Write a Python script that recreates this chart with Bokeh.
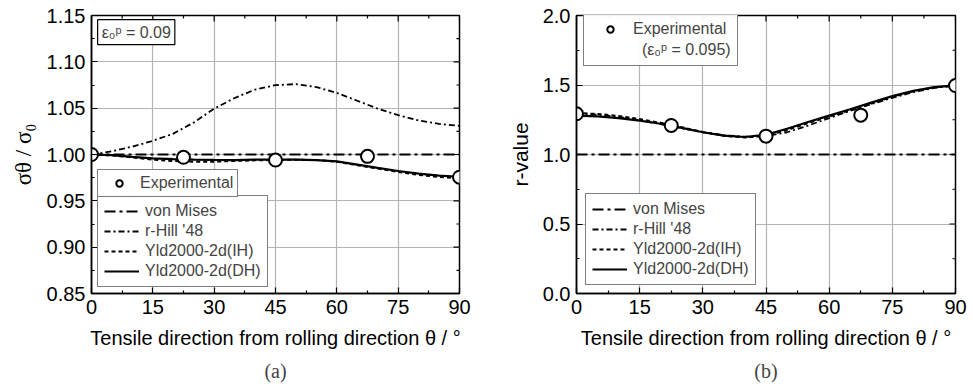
import math
from bokeh.plotting import figure
from bokeh.models import (FixedTicker, Legend, LegendItem, Label, Title,
                          NumeralTickFormatter, Range1d, ColumnDataSource)
from bokeh.layouts import row
from bokeh.embed import file_html
from bokeh.resources import INLINE

# ---------------- data ----------------
theta = [0, 5, 10, 15, 20, 25, 30, 35, 40, 45, 50, 55, 60, 65, 70, 75, 80, 85, 90]
exp_theta = [0, 22.5, 45, 67.5, 90]
mises_theta = [0, 90]

# (a) normalized yield stress
stress_exp = [1.000, 0.997, 0.994, 0.998, 0.9755]
stress_mises = [1.0, 1.0]
stress_hill = [1.000, 1.0035, 1.0085, 1.0148, 1.0225, 1.0345, 1.0495, 1.0610, 1.0700, 1.0748,
               1.0760, 1.0728, 1.0665, 1.0580, 1.0495, 1.0425, 1.0368, 1.0330, 1.0310]
stress_ih = [1.000, 0.9990, 0.9968, 0.9945, 0.9930, 0.9922, 0.9922, 0.9930, 0.9937, 0.9941,
             0.9943, 0.9940, 0.9922, 0.9885, 0.9848, 0.9812, 0.9780, 0.9757, 0.9745]
stress_dh = [1.000, 0.9993, 0.9975, 0.9958, 0.9950, 0.9945, 0.9941, 0.9940, 0.9944, 0.9946,
             0.9945, 0.9940, 0.9925, 0.9890, 0.9855, 0.9822, 0.9793, 0.9772, 0.9760]

# (b) r-value
r_exp = [1.293, 1.209, 1.132, 1.283, 1.496]
r_mises = [1.0, 1.0]
r_hill = [1.293, 1.287, 1.270, 1.246, 1.218, 1.188, 1.160, 1.139, 1.128, 1.132,
          1.160, 1.208, 1.262, 1.314, 1.362, 1.408, 1.449, 1.479, 1.496]
r_ih = [1.298, 1.292, 1.277, 1.255, 1.228, 1.196, 1.162, 1.135, 1.122, 1.135,
        1.176, 1.226, 1.273, 1.319, 1.366, 1.414, 1.455, 1.483, 1.496]
r_dh = [1.280, 1.274, 1.262, 1.244, 1.221, 1.191, 1.160, 1.136, 1.126, 1.142,
        1.185, 1.234, 1.280, 1.326, 1.373, 1.420, 1.458, 1.485, 1.497]

x_major = [0, 15, 30, 45, 60, 75, 90]
x_minor = [7.5, 22.5, 37.5, 52.5, 67.5, 82.5]
ya_major = [0.85, 0.90, 0.95, 1.00, 1.05, 1.10, 1.15]
ya_minor = [0.875, 0.925, 0.975, 1.025, 1.075, 1.125]
yb_major = [0.0, 0.5, 1.0, 1.5, 2.0]
yb_minor = [0.25, 0.75, 1.25, 1.75]

series_names = ["von Mises", "r-Hill '48", "Yld2000-2d(IH)", "Yld2000-2d(DH)"]

SANS = "Liberation Sans"
SERIF = "Liberation Serif"

DASH_MISES = "11 4 3 4"
DASH_HILL = "6 3 2 3"
DASH_IH = "4 3"


def make_fig(yr, ymaj, ymin, fmt, ylabel, ylabel_font, ylabel_size, left_b, right_b, fw, panel):
    p = figure(frame_width=fw, frame_height=278, x_range=Range1d(0, 90), y_range=Range1d(*yr),
               output_backend="svg", toolbar_location=None,
               min_border_left=left_b, min_border_right=right_b, min_border_top=15,
               min_border_bottom=97)
    p.outline_line_color = "black"
    p.outline_line_width = 1.5
    xt = FixedTicker(ticks=x_major, minor_ticks=x_minor)
    yt = FixedTicker(ticks=ymaj, minor_ticks=ymin)
    p.xaxis.ticker = xt
    p.yaxis.ticker = yt
    p.xgrid.ticker = xt
    p.ygrid.ticker = yt
    for g in (p.xgrid, p.ygrid):
        g.grid_line_color = "#b4b4b4"
        g.grid_line_width = 1.2
    p.yaxis.formatter = NumeralTickFormatter(format=fmt)
    p.xaxis.axis_label = "Tensile direction from rolling direction θ / °"
    p.yaxis.axis_label = ylabel
    for ax in p.axis:
        ax.major_tick_in = 6
        ax.major_tick_out = 0
        ax.minor_tick_in = 3
        ax.minor_tick_out = 0
        ax.axis_line_width = 1.5
        ax.major_tick_line_width = 1.2
        ax.minor_tick_line_width = 1.2
        ax.major_label_text_font = SANS
        ax.major_label_text_font_size = "20px"
        ax.major_label_text_color = "black"
        ax.major_label_standoff = 6
        ax.axis_label_text_font_style = "normal"
        ax.axis_label_text_color = "black"
    p.xaxis.axis_label_text_font = SANS
    p.xaxis.axis_label_text_font_size = "20px"
    p.xaxis.axis_label_standoff = 10
    p.yaxis.axis_label_text_font = ylabel_font
    p.yaxis.axis_label_text_font_size = ylabel_size
    p.yaxis.axis_label_standoff = 8
    # inward ticks on the top and right edges, drawn at the tick arrays
    ytop, xright = yr[1], 90
    p.ray(x=x_major, y=[ytop] * len(x_major), length=6, length_units="screen",
          angle=-math.pi / 2, line_color="black", line_width=1.2)
    p.ray(x=x_minor, y=[ytop] * len(x_minor), length=3, length_units="screen",
          angle=-math.pi / 2, line_color="black", line_width=1.2)
    p.ray(x=[xright] * len(ymaj), y=ymaj, length=6, length_units="screen",
          angle=math.pi, line_color="black", line_width=1.2)
    p.ray(x=[xright] * len(ymin), y=ymin, length=3, length_units="screen",
          angle=math.pi, line_color="black", line_width=1.2)
    t = Title(text=panel, align="center", text_font=SERIF, text_font_size="20px",
              text_font_style="normal", standoff=12)
    p.add_layout(t, "below")
    return p


def draw(p, mises, hill, ih, dh, expv):
    r1 = p.line(mises_theta, mises, line_color="black", line_width=1.8, line_dash=DASH_MISES)
    r2 = p.line(theta, hill, line_color="black", line_width=1.8, line_dash=DASH_HILL)
    r3 = p.line(theta, ih, line_color="black", line_width=2, line_dash=DASH_IH)
    r4 = p.line(theta, dh, line_color="black", line_width=2.2)
    r5 = p.scatter(exp_theta, expv, size=13, marker="circle", fill_color="white",
                   line_color="black", line_width=2)
    return [r1, r2, r3, r4], r5


def line_legend(p, rs, loc):
    lg = Legend(items=[LegendItem(label=n, renderers=[r]) for n, r in zip(series_names, rs)],
                location=loc, margin=0, padding=6, spacing=2, label_height=18, glyph_height=18,
                glyph_width=35, label_standoff=6, label_text_font=SANS,
                label_text_font_size="16px", border_line_color="black", border_line_width=1.2,
                background_fill_alpha=1.0)
    p.add_layout(lg)


# ---------------- panel (a) ----------------
pa = make_fig((0.85, 1.15), ya_major, ya_minor, "0.00", "σθ / σ₀", SERIF, "23px", 91, 20, 368, "(a)")
rs_a, ex_a = draw(pa, stress_mises, stress_hill, stress_ih, stress_dh, stress_exp)
line_legend(pa, rs_a, (6, 6))
lg_exp_a = Legend(items=[LegendItem(label="Experimental", renderers=[ex_a])], location=(6, 96),
                  margin=0, padding=4, label_height=16, glyph_height=16, glyph_width=34,
                  label_standoff=4, label_text_font=SANS, label_text_font_size="16px",
                  border_line_color="black", border_line_width=1.2)
pa.add_layout(lg_exp_a)
pa.add_layout(Label(x=1.5, y=1.1455, text="ε₀ᵖ = 0.09", text_font=SANS, text_font_size="16px",
                    text_baseline="top", text_align="left", padding=4,
                    border_line_color="black", border_line_width=1.2,
                    background_fill_color="white"))

# ---------------- panel (b) ----------------
pb = make_fig((0.0, 2.0), yb_major, yb_minor, "0.0", "r-value", SANS, "21px", 97, 18, 379, "(b)")
rs_b, ex_b = draw(pb, r_mises, r_hill, r_ih, r_dh, r_exp)
line_legend(pb, rs_b, (9, 8))
empty = ColumnDataSource(data=dict(x=[], y=[]))
ghost = pb.scatter("x", "y", source=empty, size=1, fill_alpha=0, line_alpha=0)
lg_exp_b = Legend(items=[LegendItem(label="Experimental", renderers=[ex_b]),
                         LegendItem(label="\u00a0\u00a0(ε₀ᵖ = 0.095)", renderers=[ghost])],
                  location=(7, 227), margin=0, padding=6, spacing=3, label_height=16,
                  glyph_height=16, glyph_width=40, label_standoff=3, label_text_font=SANS,
                  label_text_font_size="16px", border_line_color="black",
                  border_line_width=1.2)
pb.add_layout(lg_exp_b)

layout = row(pa, pb)
open("out.html", "w").write(file_html(layout, INLINE))
